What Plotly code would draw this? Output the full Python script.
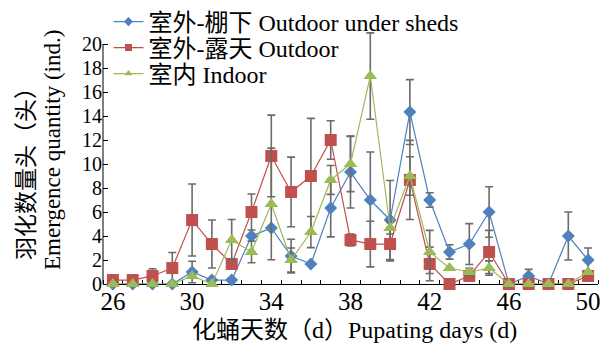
import plotly.graph_objects as go

days = list(range(26, 51))

# 室外-棚下 Outdoor under sheds
sheds = [0, 0, 0, 0, 1.0, 0.33, 0.33, 4.0, 4.67, 2.33, 1.67, 6.33, 9.33, 7.0, 5.33,
         14.33, 7.0, 2.67, 3.33, 6.0, 0, 0.67, 0, 4.0, 2.0]
sheds_err = [0, 0, 0, 0, 0.9, 0, 0, 0, 0, 1.4, 0, 2.4, 3.0, 4.0, 3.3,
             2.7, 0.6, 0.6, 1.7, 2.1, 0, 0.55, 0, 2.0, 1.0]

# 室外-露天 Outdoor
outdoor = [0.33, 0.33, 0.67, 1.33, 5.33, 3.33, 1.67, 6.0, 10.67, 7.67, 9.0, 12.0, 3.67, 3.33, 3.33,
           8.67, 1.67, 0, 0.67, 2.67, 0, 0, 0, 0, 0.67]
outdoor_err = [0, 0, 0.6, 1.3, 3.0, 2.0, 0, 1.5, 3.4, 2.9, 4.8, 1.6, 0.5, 1.9, 1.4,
               3.3, 1.4, 0, 0, 1.8, 0, 0, 0, 0, 0]

# 室内 Indoor
indoor = [0, 0, 0, 0, 0.67, 0, 3.67, 2.67, 6.67, 2.0, 4.33, 8.67, 10.0, 17.33, 4.67,
          9.0, 2.67, 1.33, 1.0, 1.33, 0, 0, 0, 0, 1.0]
indoor_err = [0, 0, 0, 0, 0, 0, 1.7, 0.9, 4.65, 1.0, 1.3, 1.2, 2.3, 3.6, 0.5,
              1.6, 1.8, 0, 0.3, 0.6, 0, 0, 0, 0, 0]

names = ["室外-棚下 Outdoor under sheds", "室外-露天 Outdoor", "室内 Indoor"]
colors = ["#4F81BD", "#C0504D", "#9BBB59"]
symbols = ["diamond", "square", "triangle-up"]
sizes = [10, 12, 12]

x_ticks = [26, 30, 34, 38, 42, 46, 50]
y_ticks = list(range(0, 21, 2))

FONT = "Liberation Serif, Times New Roman, Noto Sans CJK SC, serif"

# page has an 8px body margin: figure coordinates = page coordinates - 8
W, H = 601, 337
L, R, T, B = 95, 11, 12, 61
PW, PH = W - L - R, H - T - B


def px_x(page_x):
    return (page_x - 8 - L) / PW


def px_y(page_y):
    return (H - B - (page_y - 8)) / PH


fig = go.Figure()
for vals, errs, name, c, s, sz in zip([sheds, outdoor, indoor], [sheds_err, outdoor_err, indoor_err],
                                      names, colors, symbols, sizes):
    fig.add_trace(go.Scatter(
        x=days, y=vals, mode="lines+markers", name=name, showlegend=False,
        line=dict(color=c, width=1.2),
        marker=dict(symbol=s, size=sz, color=c),
        error_y=dict(type="data", array=errs, visible=True, color="#6b6b6b", thickness=1.6, width=4),
        cliponaxis=False,
    ))
legend_ids = ["legend", "legend2", "legend3"]
legend_y = [22, 48, 74]
for name, c, s, lid in zip(names, colors, symbols, legend_ids):
    fig.add_trace(go.Scatter(
        x=[None], y=[None], mode="lines+markers", name=name, legend=lid,
        line=dict(color=c, width=1.2), marker=dict(symbol=s, size=7, color=c),
    ))

legend_common = dict(xanchor="left", yanchor="middle", bgcolor="rgba(0,0,0,0)",
                     font=dict(size=24, family=FONT), itemwidth=30, borderwidth=0)
layout_legends = {}
for lid, ly in zip(legend_ids, legend_y):
    layout_legends[lid] = dict(x=px_x(108.5), y=px_y(ly), **legend_common)

fig.update_layout(
    width=W, height=H,
    margin=dict(l=L, r=R, t=T, b=B, autoexpand=False),
    plot_bgcolor="white", paper_bgcolor="white",
    font=dict(family=FONT, size=24, color="black"),
    showlegend=True,
    xaxis=dict(range=[25.5, 50.5], tickvals=x_ticks, ticks="", showgrid=False, zeroline=False,
               showline=True, linecolor="black", linewidth=1, layer="below traces", automargin=False,
               tickfont=dict(size=25), ticklabelstandoff=-5,
               minor=dict(tick0=25.5, dtick=1, ticks="inside", ticklen=4, tickcolor="black", showgrid=False)),
    yaxis=dict(range=[0, 22], tickvals=y_ticks, ticks="inside", ticklen=5, tickcolor="black", automargin=False,
               showgrid=False, zeroline=False, showline=False, tickfont=dict(size=20)),
    shapes=[dict(type="line", xref="paper", yref="y", x0=0, x1=0, y0=0, y1=20,
                 line=dict(color="black", width=1))],
    annotations=[
        dict(text="化蛹天数（d）Pupating days (d)", xref="paper", yref="paper",
             x=px_x(354), y=px_y(330), showarrow=False,
             xanchor="center", yanchor="middle", font=dict(size=24)),
        dict(text="羽化数量头（头）", xref="paper", yref="paper", textangle=-90,
             x=px_x(26), y=px_y(168), showarrow=False,
             xanchor="center", yanchor="middle", font=dict(size=23)),
        dict(text="Emergence quantity (ind.)", xref="paper", yref="paper", textangle=-90,
             x=px_x(52), y=px_y(150), showarrow=False,
             xanchor="center", yanchor="middle", font=dict(size=23)),
    ],
    **layout_legends,
)

fig.write_html("out.html")
